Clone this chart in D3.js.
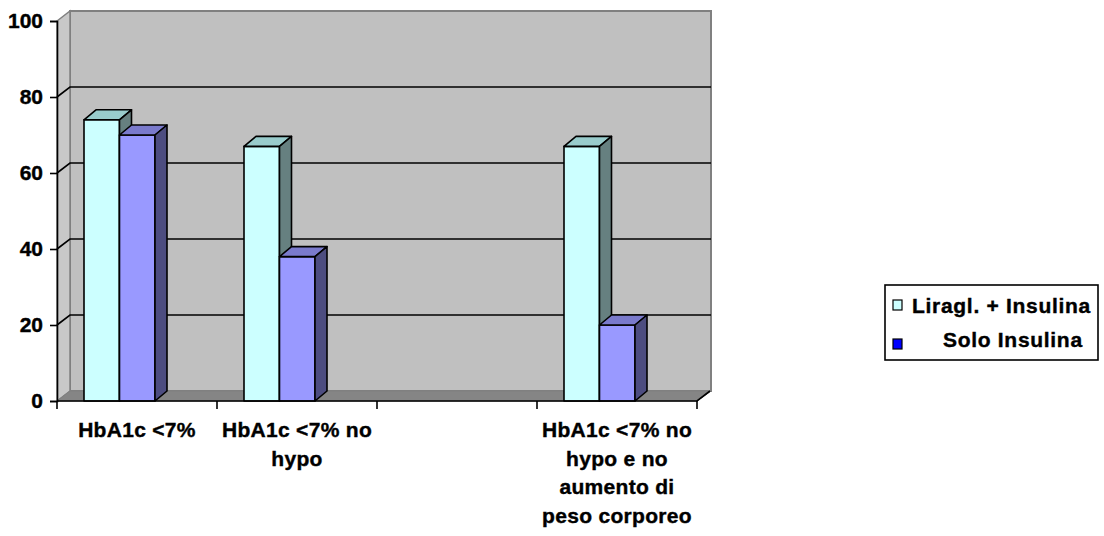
<!DOCTYPE html>
<html>
<head>
<meta charset="utf-8">
<script src="https://cdn.jsdelivr.net/npm/d3@7"></script>
<style>
  body { margin: 0; background: #fff; }
  text { font-family: "Liberation Sans", Arial, sans-serif; font-weight: bold; fill: #000; stroke: #000; stroke-width: 0.4px; }
</style>
</head>
<body>
<script>
// data
const categories = ['HbA1c <7%', 'HbA1c <7% no hypo', '', 'HbA1c <7% no hypo e no aumento di peso corporeo']
const labelLines = [['HbA1c <7%'], ['HbA1c <7% no', 'hypo'], [], ['HbA1c <7% no', 'hypo e no', 'aumento di', 'peso corporeo']]
const seriesNames = ['Liragl. + Insulina', 'Solo Insulina']
const liraglValues = [74, 67, null, 67]
const soloValues = [70, 38, null, 20]
const yTicks = [0, 20, 40, 60, 80, 100]

const width = 1104, height = 536
const plot = {left: 57, right: 697, top: 21, bottom: 401}
const wall = {dx: 13, dy: -10}   // depth of back wall
const bar = {dx: 12, dy: -10, offset: 27, w: 35.5}

const colors = [
  {front: '#ccffff', top: '#99cccc', side: '#668080', legend: '#ccffff'},
  {front: '#9999ff', top: '#7a7acc', side: '#4d4d80', legend: '#0000ff'}
]

const svg = d3.select('body').append('svg')
  .attr('width', width).attr('height', height)

const x = d3.scaleBand().domain(categories).range([plot.left, plot.right])
const y = d3.scaleLinear().domain([0, 100]).range([plot.bottom, plot.top])

// back wall
svg.append('rect')
  .attr('x', plot.left + wall.dx).attr('y', y(100) + wall.dy)
  .attr('width', plot.right - plot.left + 1).attr('height', y(0) - y(100))
  .attr('fill', '#c0c0c0').attr('stroke', '#808080').attr('stroke-width', 2)

// side wall
svg.append('path')
  .attr('d', `M${plot.left},${y(100)}L${plot.left + wall.dx},${y(100) + wall.dy}L${plot.left + wall.dx},${y(0) + wall.dy}L${plot.left},${y(0)}Z`)
  .attr('fill', '#c8c8c8').attr('stroke', '#808080').attr('stroke-width', 1.5)

// floor
svg.append('path')
  .attr('d', `M${plot.left},${y(0)}L${plot.left + wall.dx},${y(0) + wall.dy}L${plot.right + wall.dx + 1},${y(0) + wall.dy}L${plot.right},${y(0)}Z`)
  .attr('fill', '#858585').attr('stroke', '#808080').attr('stroke-width', 1)

// gridlines
const grid = svg.append('g').attr('stroke', '#000').attr('stroke-width', 1.6).attr('fill', 'none')
yTicks.filter(v => v > 0 && v < 100).forEach(v => {
  grid.append('path')
    .attr('d', `M${plot.left},${y(v)}L${plot.left + wall.dx},${y(v) + wall.dy}H${plot.right + wall.dx + 1}`)
})

// y axis
const yAxis = d3.axisLeft(y).tickValues(yTicks).tickSize(7).tickPadding(7)
const gy = svg.append('g').attr('transform', `translate(${plot.left},0)`).call(yAxis)
gy.select('.domain').attr('stroke', '#000').attr('stroke-width', 1.6)
gy.selectAll('.tick line').attr('stroke', '#000').attr('stroke-width', 1.6)
gy.selectAll('.tick text').style('font-size', '21px').style('font-family', '"Liberation Sans", Arial, sans-serif').style('font-weight', 'bold')

// bars
const data = categories.map((c, i) => ({cat: c, vals: [liraglValues[i], soloValues[i]]}))
const bars = svg.append('g').attr('stroke', '#000').attr('stroke-width', 1.6).attr('stroke-linejoin', 'round')
data.forEach(d => {
  d.vals.forEach((v, s) => {
    if (v == null) return
    const x0 = x(d.cat) + bar.offset + s * bar.w
    const x1 = x0 + bar.w
    const yt = y(v), yb = y(0)
    const g = bars.append('g')
    g.append('rect').attr('x', x0).attr('y', yt).attr('width', bar.w).attr('height', yb - yt).attr('fill', colors[s].front)
    g.append('path').attr('d', `M${x0},${yt}L${x0 + bar.dx},${yt + bar.dy}L${x1 + bar.dx},${yt + bar.dy}L${x1},${yt}Z`).attr('fill', colors[s].top)
    g.append('path').attr('d', `M${x1},${yt}L${x1 + bar.dx},${yt + bar.dy}L${x1 + bar.dx},${yb + bar.dy}L${x1},${yb}Z`).attr('fill', colors[s].side)
  })
})

// x axis
const gx = svg.append('g').attr('stroke', '#000').attr('stroke-width', 1.6).attr('fill', 'none')
gx.append('path').attr('d', `M${plot.left},${y(0)}H${plot.right}L${plot.right + wall.dx},${y(0) + wall.dy}`)
const edges = categories.map(c => x(c)).concat([x.range()[1]])
edges.forEach(e => gx.append('line').attr('x1', e).attr('x2', e).attr('y1', y(0)).attr('y2', y(0) + 8))

// category labels
categories.forEach((c, i) => {
  const t = svg.append('text')
    .attr('text-anchor', 'middle')
    .style('font-size', '21px').style('letter-spacing', '0.3px')
  labelLines[i].forEach((line, k) => {
    t.append('tspan').attr('x', x(c) + x.bandwidth() / 2).attr('y', 437 + k * 28.5).text(line)
  })
})

// legend
const lg = svg.append('g')
lg.append('rect').attr('x', 885).attr('y', 285).attr('width', 213).attr('height', 75)
  .attr('fill', '#fff').attr('stroke', '#000').attr('stroke-width', 1.6)
const legendRows = [{y: 300, tx: 912, ty: 313}, {y: 339, tx: 943, ty: 347}]
seriesNames.forEach((name, i) => {
  const r = legendRows[i]
  lg.append('rect').attr('x', 893).attr('y', r.y).attr('width', 9).attr('height', 10)
    .attr('fill', colors[i].legend).attr('stroke', '#000').attr('stroke-width', 1.2)
  lg.append('text').attr('x', r.tx).attr('y', r.ty)
    .style('font-size', '21px').style('letter-spacing', '0.7px').text(name)
})
</script>
</body>
</html>
